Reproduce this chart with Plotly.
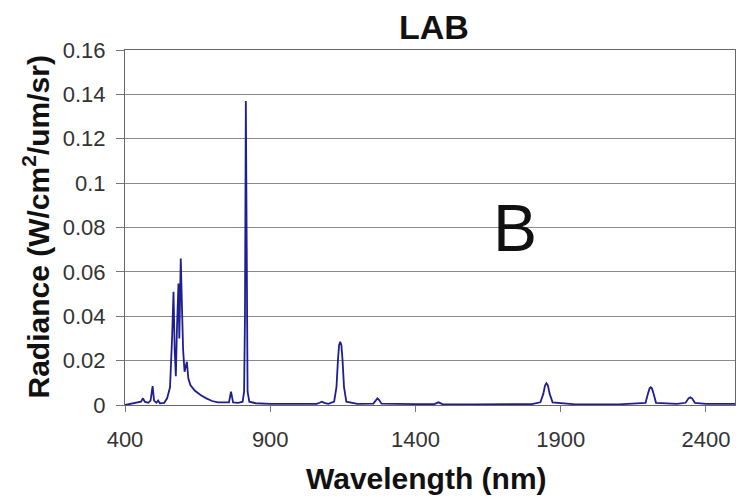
import plotly.graph_objects as go

wavelength_nm = [
    400, 420, 440, 455, 462, 468, 480, 488, 495, 500, 508, 514, 520, 535, 545, 555,
    562, 567, 571, 575, 579, 584, 587, 589, 592, 596, 600, 605, 610, 613, 618, 625,
    640, 660, 680, 700, 720, 745, 758, 762, 765, 768, 772, 790, 805, 810, 813, 816,
    819, 822, 828, 850, 900, 1000, 1060, 1070, 1078, 1086, 1100, 1120, 1128, 1133,
    1137, 1141, 1145, 1149, 1154, 1162, 1200, 1255, 1263, 1269, 1275, 1283, 1400,
    1465, 1479, 1493, 1600, 1700, 1800, 1830, 1840, 1846, 1851, 1856, 1862, 1872,
    1950, 2100, 2192, 2200, 2206, 2210, 2214, 2220, 2228, 2300, 2330, 2340, 2346,
    2352, 2362, 2400, 2500,
]
radiance = [
    0.0000, 0.0005, 0.0010, 0.0015, 0.0030, 0.0015, 0.0010, 0.0020, 0.0085, 0.0020,
    0.0010, 0.0020, 0.0008, 0.0010, 0.0030, 0.0080, 0.0300, 0.0510, 0.0250, 0.0130,
    0.0350, 0.0548, 0.0300, 0.0450, 0.0660, 0.0450, 0.0250, 0.0150, 0.0180, 0.0195,
    0.0120, 0.0090, 0.0065, 0.0045, 0.0030, 0.0018, 0.0012, 0.0010, 0.0012, 0.0040,
    0.0060, 0.0040, 0.0012, 0.0010, 0.0015, 0.0060, 0.0400, 0.1370, 0.0400, 0.0060,
    0.0015, 0.0008, 0.0005, 0.0005, 0.0005, 0.0010, 0.0015, 0.0010, 0.0005, 0.0015,
    0.0080, 0.0200, 0.0270, 0.0285, 0.0270, 0.0200, 0.0080, 0.0015, 0.0005, 0.0006,
    0.0022, 0.0030, 0.0022, 0.0006, 0.0004, 0.0004, 0.0012, 0.0004, 0.0003, 0.0003,
    0.0004, 0.0012, 0.0050, 0.0088, 0.0098, 0.0088, 0.0050, 0.0012, 0.0003, 0.0003,
    0.0010, 0.0050, 0.0075, 0.0080, 0.0075, 0.0050, 0.0010, 0.0005, 0.0010, 0.0030,
    0.0035, 0.0030, 0.0010, 0.0005, 0.0005,
]
x_ticks = [400, 900, 1400, 1900, 2400]
y_ticks = [0, 0.02, 0.04, 0.06, 0.08, 0.1, 0.12, 0.14, 0.16]
y_tick_text = ["0", "0.02", "0.04", "0.06", "0.08", "0.1", "0.12", "0.14", "0.16"]

fig = go.Figure()
fig.add_trace(go.Scatter(
    x=wavelength_nm, y=radiance, mode="lines",
    line=dict(color="#1e1e92", width=1.8), showlegend=False,
))

font_family = "Liberation Sans, Arial, sans-serif"
fig.update_layout(
    width=737, height=496,
    margin=dict(l=117, r=10, t=42, b=99),
    paper_bgcolor="white", plot_bgcolor="white",
    font=dict(family=font_family, color="#222"),
    title=dict(text="<b>LAB</b>", x=0.578, xanchor="center", y=0.962, yanchor="middle",
               font=dict(size=34, color="#111")),
    xaxis=dict(
        range=[400, 2500], tickvals=x_ticks, ticks="outside", ticklen=6,
        tickcolor="#777", showgrid=False, showline=True, linecolor="#666",
        linewidth=1.2, mirror=True, zeroline=False, ticklabelstandoff=8,
        tickfont=dict(size=22, color="#333"),
    ),
    yaxis=dict(
        range=[0, 0.16], tickvals=y_ticks, ticktext=y_tick_text, ticks="outside",
        ticklen=8, tickcolor="#777", showgrid=True, gridcolor="#8a8a8a", gridwidth=1,
        showline=True, linecolor="#666", linewidth=1.2, mirror=True, zeroline=False,
        ticklabelstandoff=6, tickfont=dict(size=22, color="#333"),
    ),
    annotations=[
        dict(x=1741, y=0.08, xref="x", yref="y", text="B", showarrow=False,
             font=dict(size=66, color="#111", family=font_family)),
        dict(x=0.5, y=0, xref="paper", yref="paper", xanchor="center", yanchor="middle",
             xshift=-4, yshift=-73, text="<b>Wavelength (nm)</b>", showarrow=False,
             font=dict(size=30, color="#111", family=font_family)),
        dict(x=0, y=0.5, xref="paper", yref="paper", xanchor="center", yanchor="middle",
             xshift=-89, textangle=-90, text="<b>Radiance (W/cm<sup>2</sup>/um/sr)</b>",
             showarrow=False, font=dict(size=30, color="#111", family=font_family)),
    ],
)

fig.write_html("out.html")
